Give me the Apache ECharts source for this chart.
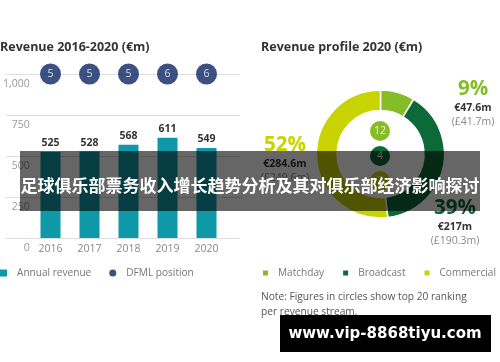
<!DOCTYPE html>
<html><head><meta charset="utf-8">
<script src="https://cdn.jsdelivr.net/npm/echarts@6/dist/echarts.min.js"></script>
<style>html,body{margin:0;padding:0;background:#fff}#c{width:500px;height:362px}</style>
</head><body><div id="c"></div>
<script>
const years = ['2016', '2017', '2018', '2019', '2020'];
const revenue = [525, 528, 568, 611, 549];
const dfmlPosition = [5, 5, 5, 6, 6];
const yTicks = [0, 250, 500, 750, 1000];
const profileNames = ['Matchday', 'Broadcast', 'Commercial'];
const profileValues = [47.6, 217, 284.6];
const profilePct = ['9%', '39%', '52%'];
const profileGbp = ['£41.7m', '£190.3m', '£249.6m'];
const profileRank = [12, 4, 7];
const overlayTitle = '足球俱乐部票务收入增长趋势分析及其对俱乐部经济影响探讨';
const bannerText = 'www.vip-8868tiyu.com';

const C_TEAL = '#0e98a8', C_NAVY = '#0b2463';
const C_MATCH = '#86bc25', C_BROAD = '#0c6a38', C_COMM = '#c9d300';
const profileColors = [C_MATCH, C_BROAD, C_COMM];
const FONT = 'Open Sans';
const FS = 10.5;
const LFS = 10.1;

const yMin = yTicks[0], yMax = yTicks[yTicks.length - 1], yInt = yTicks[1] - yTicks[0];
const chart = echarts.init(document.getElementById('c'), null, {renderer: 'canvas'});

const labelPos = [
  {x: 473, y: 78},
  {x: 455, y: 197},
  {x: 285, y: 134}
];

const rankY = [131, 156, 181];
const graphics = [];
profileRank.forEach((r, i) => {
  graphics.push({type: 'circle', shape: {cx: 380, cy: rankY[i], r: 10}, style: {fill: profileColors[i]}, z: 5});
  graphics.push({type: 'text', x: 380, y: rankY[i], style: {text: String(r), fill: 'rgba(255,255,255,0.85)', fontSize: 10.5, fontFamily: FONT, align: 'center', verticalAlign: 'middle'}, z: 6});
});
graphics.push({type: 'text', x: 261, y: 290, style: {text: 'Note: Figures in circles show top 20 ranking\nper revenue stream.', fill: '#555', fontSize: 10.2, fontFamily: FONT, lineHeight: 15}, z: 5});
graphics.push({type: 'rect', shape: {x: 20, y: 151, width: 460, height: 60}, style: {fill: 'rgba(0,0,0,0.6)'}, z: 100});
graphics.push({type: 'text', x: 250, y: 186, style: {text: overlayTitle, fill: '#fff', fontSize: 17, fontWeight: 'bold', fontFamily: 'Noto Sans CJK SC', align: 'center', verticalAlign: 'middle'}, z: 101});
graphics.push({type: 'rect', shape: {x: 280, y: 315, width: 211, height: 37}, style: {fill: '#000'}, z: 100});
graphics.push({type: 'text', x: 385, y: 334, style: {text: bannerText, fill: '#fff', fontSize: 15, fontWeight: 'bold', fontFamily: 'DejaVu Sans', align: 'center', verticalAlign: 'middle'}, z: 101});

chart.setOption({
  animation: false,
  textStyle: {fontFamily: FONT},
  title: [
    {text: 'Revenue 2016-2020 (€m)', left: 0, top: 41, padding: 0, textStyle: {fontSize: 12.5, fontWeight: 'bold', color: '#333', fontFamily: FONT}},
    {text: 'Revenue profile 2020 (€m)', left: 261, top: 41, padding: 0, textStyle: {fontSize: 12.5, fontWeight: 'bold', color: '#333', fontFamily: FONT}}
  ],
  legend: [
    {left: 0, top: 268, width: 240, padding: 0, itemWidth: 7, itemHeight: 7, itemGap: 18, data: [{name: 'Annual revenue', icon: 'rect'}, {name: 'DFML position', icon: 'circle'}], textStyle: {color: '#777', fontSize: LFS, fontFamily: FONT, padding: [0, 0, 0, 5]}},
    {left: 261, top: 268, width: 300, padding: 0, itemWidth: 7, itemHeight: 7, itemGap: 17, icon: 'rect', data: profileNames, textStyle: {color: '#777', fontSize: LFS, fontFamily: FONT, padding: [0, 0, 0, 4]}}
  ],
  grid: [
    {left: 0, top: 74, width: 240, height: 164},
    {left: 31, top: 74, width: 195, height: 164}
  ],
  xAxis: [
    {gridIndex: 0, type: 'value', show: false, min: 0, max: 1},
    {gridIndex: 1, type: 'category', data: years, axisLine: {show: false}, axisTick: {show: false},
      axisLabel: {color: '#888', fontSize: FS, margin: 6, fontFamily: FONT}}
  ],
  yAxis: [
    {gridIndex: 0, type: 'value', min: yMin, max: yMax, interval: yInt,
      axisLine: {show: false}, axisTick: {show: false},
      splitLine: {lineStyle: {color: '#dcdcdc', width: 1}},
      axisLabel: {inside: true, margin: 24, align: 'right', verticalAlign: 'top', padding: [5, 0, 0, 0], color: '#999', fontSize: FS, fontFamily: FONT,
        formatter: v => v.toLocaleString('en-US')}},
    {gridIndex: 1, type: 'value', min: yMin, max: yMax, interval: yInt, show: false, splitLine: {show: false}}
  ],
  series: [
    {name: 'Annual revenue', type: 'bar', xAxisIndex: 1, yAxisIndex: 1, data: revenue, barWidth: 20,
      itemStyle: {color: C_TEAL},
      label: {show: true, position: 'top', distance: 3, color: '#333', fontWeight: 'bold', fontSize: FS, fontFamily: FONT}},
    {name: 'DFML position', type: 'scatter', xAxisIndex: 1, yAxisIndex: 1, clip: false, symbolSize: 21,
      data: dfmlPosition.map((p, i) => ({value: [years[i], yMax], pos: p})),
      itemStyle: {color: C_NAVY},
      label: {show: true, position: 'inside', color: '#fff', fontSize: 10.5, fontFamily: FONT, formatter: p => String(p.data.pos)}, z: 5},
    {name: 'Revenue profile', type: 'pie', center: [380.5, 154], radius: [43.5, 64], startAngle: 90, clockwise: true,
      avoidLabelOverlap: false,
      itemStyle: {borderColor: '#fff', borderWidth: 1.5},
      data: profileNames.map((n, i) => ({name: n, value: profileValues[i], itemStyle: {color: profileColors[i]}})),
      labelLine: {show: false},
      label: {show: true, position: 'outside',
        formatter: p => '{pct' + p.dataIndex + '|' + profilePct[p.dataIndex] + '}\n{eur|€' + p.value + 'm}\n{gbp|(' + profileGbp[p.dataIndex] + ')}',
        rich: {
          pct0: {fontSize: 20.5, fontWeight: 'bold', color: C_MATCH, lineHeight: 23, align: 'center', fontFamily: FONT},
          pct1: {fontSize: 20.5, fontWeight: 'bold', color: C_BROAD, lineHeight: 23, align: 'center', fontFamily: FONT},
          pct2: {fontSize: 20.5, fontWeight: 'bold', color: C_COMM, lineHeight: 23, align: 'center', fontFamily: FONT},
          eur: {fontSize: FS, fontWeight: 'bold', color: '#333', lineHeight: 14, align: 'center', fontFamily: FONT},
          gbp: {fontSize: FS, color: '#888', lineHeight: 14, align: 'center', fontFamily: FONT}
        }},
      labelLayout: p => ({x: labelPos[p.dataIndex].x, y: labelPos[p.dataIndex].y, align: 'center', verticalAlign: 'top', hideOverlap: false})
    }
  ],
  graphic: graphics
});
</script></body></html>
